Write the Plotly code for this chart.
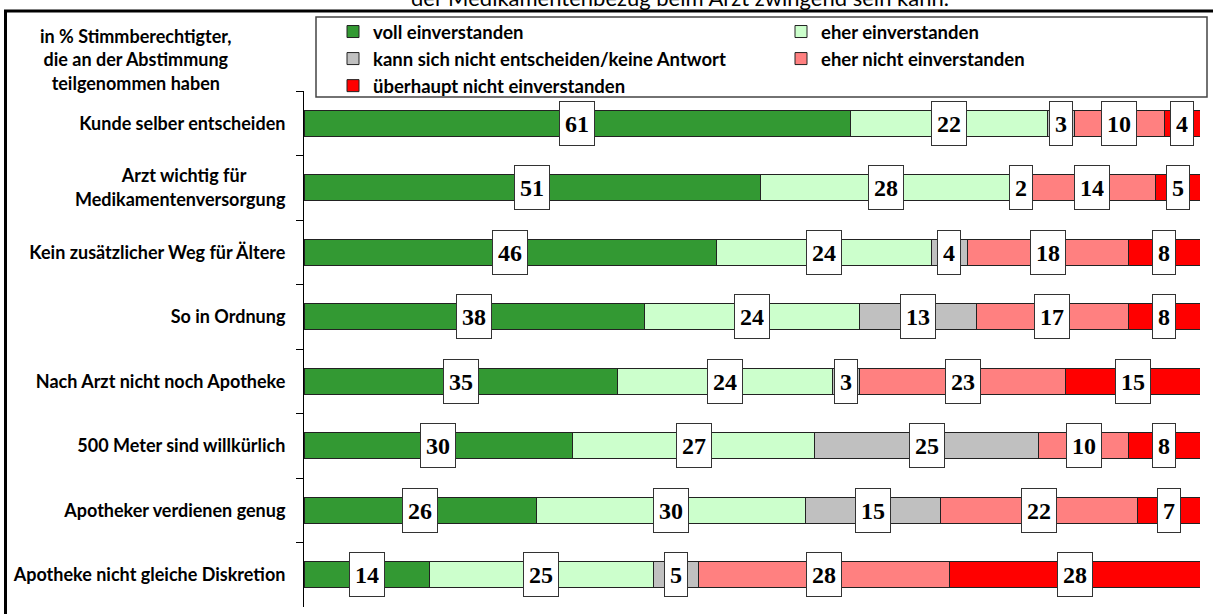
import plotly.graph_objects as go

# ---------------- data ----------------
categories = [
    "Kunde selber entscheiden",
    "Arzt wichtig für<br>Medikamentenversorgung",
    "Kein zusätzlicher Weg für Ältere",
    "So in Ordnung",
    "Nach Arzt nicht noch Apotheke",
    "500 Meter sind willkürlich",
    "Apotheker verdienen genug",
    "Apotheke nicht gleiche Diskretion",
]
voll = [61, 51, 46, 38, 35, 30, 26, 14]
eher = [22, 28, 24, 24, 24, 27, 30, 25]
unentschieden = [3, 2, 4, 13, 3, 25, 15, 5]
eher_nicht = [10, 14, 18, 17, 23, 10, 22, 28]
gar_nicht = [4, 5, 8, 8, 15, 8, 7, 28]

series_names = [
    "voll einverstanden",
    "eher einverstanden",
    "kann sich nicht entscheiden/keine Antwort",
    "eher nicht einverstanden",
    "überhaupt nicht einverstanden",
]
series_values = [voll, eher, unentschieden, eher_nicht, gar_nicht]

title_text = "der Medikamentenbezug beim Arzt zwingend sein kann."
corner_text = "in % Stimmberechtigter,<br>die an der Abstimmung<br>teilgenommen haben"

# ---------------- style ----------------
colors = ["#339933", "#CCFFCC", "#C0C0C0", "#FF8080", "#FF0000"]
legend_ids = ["legend", "legend2", "legend", "legend2", "legend"]
LABEL_FONT = "Lato"
NUM_FONT = "Liberation Serif"

W, H = 1213, 614
L, R, T, B = 304, 13, 91, 7
pw = W - L - R
ph = H - T - B


def px(x):
    return (x - L) / pw


def py(y):
    return (H - B - y) / ph


# display labels: centre the short line of two-line labels
def display_label(c):
    if "<br>" not in c:
        return c
    first, second = c.split("<br>", 1)
    return first + "\u00a0" * 9 + "<br>" + second


ylabels = [display_label(c) for c in categories]

fig = go.Figure()
for name, vals, col, lg in zip(series_names, series_values, colors, legend_ids):
    fig.add_trace(
        go.Bar(
            y=ylabels,
            x=vals,
            name=name,
            orientation="h",
            marker=dict(color=col, line=dict(color="#222222", width=1)),
            legend=lg,
            hoverinfo="skip",
        )
    )

# value labels in white boxes
starts = [0] * len(categories)
for vals in series_values:
    for i, (lab, v) in enumerate(zip(ylabels, vals)):
        fig.add_annotation(
            x=starts[i] + v / 2,
            y=lab,
            xref="x",
            yref="y",
            text=f"<b>{v}</b>",
            showarrow=False,
            bgcolor="white",
            bordercolor="#333333",
            borderwidth=1,
            borderpad=5,
            height=33,
            font=dict(family=NUM_FONT, size=24, color="black"),
        )
        starts[i] += v

# corner text
fig.add_annotation(
    x=px(136), y=py(60), xref="paper", yref="paper",
    text=corner_text, showarrow=False, xanchor="center", yanchor="middle",
    align="center",
    font=dict(family=LABEL_FONT, size=18, color="black", weight="bold"),
)
# clipped title at the very top
fig.add_annotation(
    x=px(680), y=py(13), xref="paper", yref="paper",
    text=title_text, showarrow=False, xanchor="center", yanchor="bottom",
    font=dict(family=LABEL_FONT, size=22, color="black"),
)

# frame and legend box
fig.add_shape(type="rect", xref="paper", yref="paper",
              x0=px(5.5), x1=px(1230), y0=py(11), y1=py(650),
              line=dict(color="black", width=3), fillcolor="rgba(0,0,0,0)", layer="above")
fig.add_shape(type="rect", xref="paper", yref="paper",
              x0=px(316), x1=px(1207), y0=py(17), y1=py(97),
              line=dict(color="#444444", width=1.5), fillcolor="white", layer="above")

legend_common = dict(
    xanchor="left", yanchor="top",
    bgcolor="rgba(0,0,0,0)", borderwidth=0,
    itemwidth=30, itemclick=False, itemdoubleclick=False,
    font=dict(family=LABEL_FONT, size=18.5, color="black", weight="bold"),
    orientation="v", traceorder="normal",
)

fig.update_layout(
    width=W, height=H,
    margin=dict(l=L, r=R, t=T, b=B, autoexpand=False),
    barmode="stack",
    bargap=0.6,
    paper_bgcolor="white",
    plot_bgcolor="white",
    showlegend=True,
    legend=dict(x=px(333), y=py(13), **legend_common),
    legend2=dict(x=px(781), y=py(13), **legend_common),
    xaxis=dict(range=[0, 100], visible=False, fixedrange=True),
    yaxis=dict(
        type="category",
        categoryorder="array",
        categoryarray=ylabels,
        autorange="reversed",
        showline=True, linecolor="black", linewidth=1,
        ticks="outside", ticklen=7, tickcolor="black", tickwidth=1,
        tickson="boundaries",
        showgrid=False, zeroline=False,
        tickfont=dict(family=LABEL_FONT, size=18, color="black", weight="bold"),
        ticklabelstandoff=14,
        fixedrange=True,
    ),
)

fig.write_html(
    "out.html",
    config={"displayModeBar": False},
    post_script="document.body.style.margin='0';document.body.style.overflow='hidden';",
)
